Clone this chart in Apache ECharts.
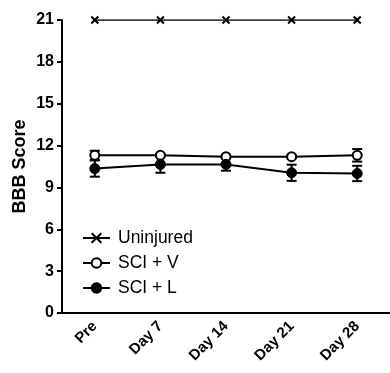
<!DOCTYPE html>
<html>
<head>
<meta charset="utf-8">
<script src="https://cdn.jsdelivr.net/npm/echarts@6/dist/echarts.min.js"></script>
<style>
  html, body { margin: 0; padding: 0; background: #fff; }
  #chart { width: 390px; height: 373px; }
</style>
</head>
<body>
<div id="chart"></div>
<script>
const categories = ["Pre", "Day 7", "Day 14", "Day 21", "Day 28"];
const uninjured = [21, 21, 21, 21, 21];
const sciV = [11.3, 11.3, 11.2, 11.2, 11.3];
const sciVErr = [0.33, 0.1, 0.1, 0.1, 0.45];
const sciL = [10.35, 10.65, 10.65, 10.05, 10.0];
const sciLErr = [0.58, 0.6, 0.45, 0.58, 0.55];
const yTicks = [0, 3, 6, 9, 12, 15, 18, 21];

const FONT = "Liberation Sans, Arial, sans-serif";
const crossPath = "path://M0,0L10,10M10,0L0,10";

// error bars drawn via custom series: [x, mean, err]
const errorSeries = (name, mean, err) => ({
  type: "custom",
  name: name + "-err",
  silent: true,
  z: 1,
  data: mean.map((m, i) => [i, m, err[i]]),
  renderItem: (params, api) => {
    const x = api.value(0);
    const m = api.value(1);
    const e = api.value(2);
    const top = api.coord([x, m + e]);
    const bot = api.coord([x, m - e]);
    const half = 5;
    const style = { stroke: "#000", lineWidth: 2 };
    return {
      type: "group",
      children: [
        { type: "line", shape: { x1: top[0], y1: top[1], x2: bot[0], y2: bot[1] }, style },
        { type: "line", shape: { x1: top[0] - half, y1: top[1], x2: top[0] + half, y2: top[1] }, style },
        { type: "line", shape: { x1: bot[0] - half, y1: bot[1], x2: bot[0] + half, y2: bot[1] }, style },
      ],
    };
  },
});

const chart = echarts.init(document.getElementById("chart"), null, { renderer: "canvas" });

chart.setOption({
  animation: false,
  textStyle: { fontFamily: FONT },
  grid: { left: 62, top: 20, width: 330, bottom: 60, containLabel: false },
  legend: {
    orient: "vertical",
    left: 77,
    top: 224,
    itemGap: 7,
    itemWidth: 27,
    itemHeight: 12,
    textStyle: { fontSize: 17.5, color: "#000", fontFamily: FONT, padding: [0, 0, 0, 3] },
    data: ["Uninjured", "SCI + V", "SCI + L"],
  },
  xAxis: {
    type: "category",
    data: categories,
    axisLine: { lineStyle: { color: "#000", width: 2 } },
    axisTick: { alignWithLabel: true, length: 5, lineStyle: { color: "#000", width: 2 } },
    axisLabel: { rotate: 45, fontSize: 15, fontWeight: "bold", color: "#000", margin: 11 },
  },
  yAxis: {
    type: "value",
    min: yTicks[0],
    max: yTicks[yTicks.length - 1],
    interval: 3,
    name: "BBB Score",
    nameLocation: "middle",
    nameGap: 33,
    nameMoveOverlap: false,
    nameTextStyle: { fontSize: 18, fontWeight: "bold", color: "#000" },
    splitLine: { show: false },
    axisLine: { show: true, lineStyle: { color: "#000", width: 2 } },
    axisTick: { show: true, length: 5, lineStyle: { color: "#000", width: 2 } },
    axisLabel: { fontSize: 16, fontWeight: "bold", color: "#000", margin: 8 },
  },
  series: [
    {
      type: "line",
      name: "Uninjured",
      data: uninjured,
      symbol: crossPath,
      symbolSize: 7,
      lineStyle: { color: "#000", width: 1.5 },
      itemStyle: { color: "#000", borderColor: "#000", borderWidth: 2 },
      z: 3,
    },
    errorSeries("SCI + V", sciV, sciVErr),
    errorSeries("SCI + L", sciL, sciLErr),
    {
      type: "line",
      name: "SCI + V",
      data: sciV,
      symbol: "circle",
      symbolSize: 9,
      lineStyle: { color: "#000", width: 2 },
      itemStyle: { color: "#fff", borderColor: "#000", borderWidth: 2 },
      z: 4,
    },
    {
      type: "line",
      name: "SCI + L",
      data: sciL,
      symbol: "circle",
      symbolSize: 10,
      lineStyle: { color: "#000", width: 2 },
      itemStyle: { color: "#000", borderColor: "#000", borderWidth: 1 },
      z: 4,
    },
  ],
});
</script>
</body>
</html>
